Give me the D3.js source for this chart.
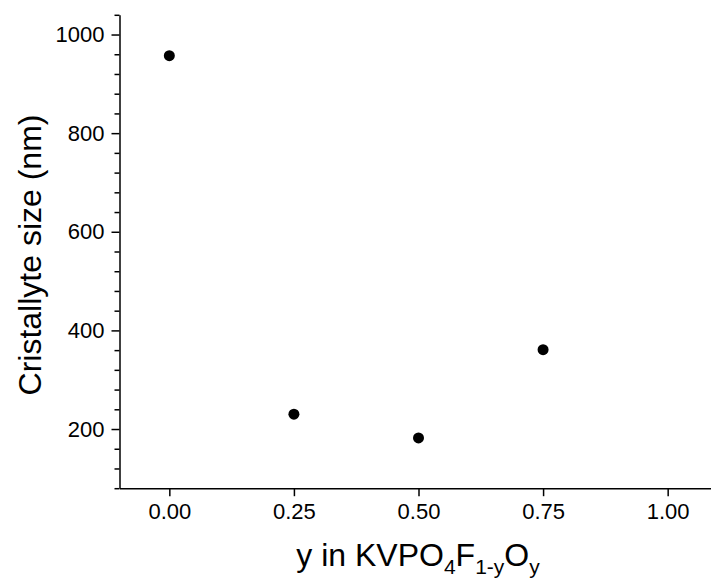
<!DOCTYPE html>
<html>
<head>
<meta charset="utf-8">
<script src="https://cdn.jsdelivr.net/npm/d3@7"></script>
<style>
  body { margin: 0; background: #fff; }
  text { font-family: "Liberation Sans", Arial, sans-serif; fill: #000; }
</style>
</head>
<body>
<svg width="711" height="579"></svg>
<script>
// composition y and crystallite size (nm)
var yComp = [0, 0.25, 0.5, 0.75];
var sizeNm = [957, 230, 182, 361];
var xTicks = [0, 0.25, 0.5, 0.75, 1.0];
var yTicks = [200, 400, 600, 800, 1000];
var yMinor = d3.range(80, 1041, 40).filter(function(v) { return yTicks.indexOf(v) < 0; });

var svg = d3.select("svg");

var x = d3.scaleLinear().domain([-0.1, 1.1]).range([119.5, 717.5]);
var y = d3.scaleLinear().domain([80, 1040]).range([488.2, 14.8]);

// minor ticks on y
svg.append("g")
  .attr("transform", "translate(119.5,0)")
  .call(d3.axisLeft(y).tickValues(yMinor).tickSize(5).tickSizeOuter(0).tickFormat(""))
  .call(function(g) { g.select(".domain").remove(); })
  .selectAll("line").style("stroke-width", "1.5px");

// y axis
var gy = svg.append("g")
  .attr("transform", "translate(119.5,0)")
  .call(d3.axisLeft(y).tickValues(yTicks).tickSize(8).tickSizeOuter(0).tickPadding(7)
    .tickFormat(d3.format("d")));
gy.select(".domain").style("stroke-width", "1.5px");
gy.selectAll("line").style("stroke-width", "1.5px");
gy.selectAll("text").style("font-size", "22px").style("font-family", "Liberation Sans, Arial, sans-serif");

// x axis
var gx = svg.append("g")
  .attr("transform", "translate(0,488.2)")
  .call(d3.axisBottom(x).tickValues(xTicks).tickSize(8).tickSizeOuter(0).tickPadding(7)
    .tickFormat(d3.format(".2f")));
gx.select(".domain").style("stroke-width", "1.5px");
gx.selectAll("line").style("stroke-width", "1.5px");
gx.selectAll("text").style("font-size", "22px").style("font-family", "Liberation Sans, Arial, sans-serif");

// points
svg.selectAll("circle.pt")
  .data(yComp)
  .enter().append("circle")
  .attr("class", "pt")
  .attr("cx", function(d) { return x(d); })
  .attr("cy", function(d, i) { return y(sizeNm[i]); })
  .attr("r", 5.5)
  .style("fill", "black");

// axis titles
svg.append("text")
  .attr("transform", "translate(41,255) rotate(-90)")
  .attr("text-anchor", "middle")
  .style("font-size", "32px")
  .text("Cristallyte size (nm)");

var xt = svg.append("text")
  .attr("x", 418)
  .attr("y", 566)
  .attr("text-anchor", "middle")
  .style("font-size", "32px");
xt.append("tspan").text("y in KVPO");
xt.append("tspan").attr("dy", 8).style("font-size", "21px").text("4");
xt.append("tspan").attr("dy", -8).text("F");
xt.append("tspan").attr("dy", 8).style("font-size", "21px").text("1-y");
xt.append("tspan").attr("dy", -8).text("O");
xt.append("tspan").attr("dy", 8).style("font-size", "21px").text("y");
</script>
</body>
</html>
